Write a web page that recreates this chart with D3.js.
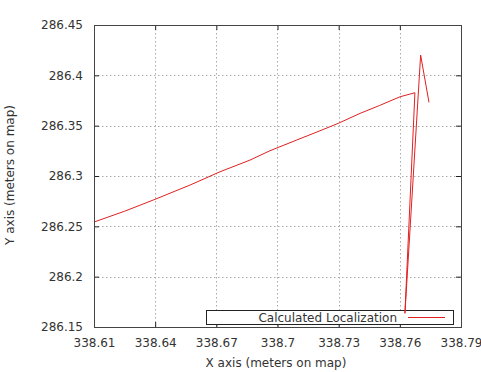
<!DOCTYPE html>
<html><head><meta charset="utf-8">
<script src="https://cdn.jsdelivr.net/npm/d3@7"></script>
<style>body{margin:0;background:#fff}svg{display:block}text{font-family:"DejaVu Sans",sans-serif;fill:#333}</style>
</head><body><svg id="c" width="481" height="372"></svg>
<script>
const xTicks = [338.61, 338.64, 338.67, 338.70, 338.73, 338.76, 338.79];
const xTickLabels = ["338.61","338.64","338.67","338.7","338.73","338.76","338.79"];
const yTicks = [286.15, 286.20, 286.25, 286.30, 286.35, 286.40, 286.45];
const yTickLabels = ["286.15","286.2","286.25","286.3","286.35","286.4","286.45"];
const xs = [338.6105, 338.6250, 338.6399, 338.6571, 338.6718, 338.6865, 338.6963, 338.7094, 338.7208, 338.7298, 338.7405, 338.7500, 338.7601, 338.7674, 338.7625, 338.7702, 338.7743];
const ys = [286.2546, 286.2650, 286.2768, 286.2910, 286.3042, 286.3158, 286.3251, 286.3357, 286.3449, 286.3523, 286.3622, 286.3700, 286.3787, 286.3827, 286.1636, 286.4201, 286.3731];
const seriesName = "Calculated Localization";
const xTitle = "X axis (meters on map)";
const yTitle = "Y axis (meters on map)";

const svg = d3.select("#c");
const L = 94, R = 461, T = 25, B = 327;
const x = d3.scaleLinear().domain([338.61, 338.79]).range([L, R]);
const y = d3.scaleLinear().domain([286.15, 286.45]).range([B, T]);

// grid
const g = svg.append("g").attr("stroke", "#aaa").attr("stroke-dasharray", "1.5,2.5").attr("stroke-width", 1);
xTicks.slice(1, -1).forEach(v => g.append("line").attr("x1", Math.round(x(v))+0.5).attr("x2", Math.round(x(v))+0.5).attr("y1", T).attr("y2", B));
yTicks.slice(1, -1).forEach(v => g.append("line").attr("y1", Math.round(y(v))+0.5).attr("y2", Math.round(y(v))+0.5).attr("x1", L).attr("x2", R));

// axes (ticks inward, mirrored)
const fmtX = (d, i) => xTickLabels[i];
const fmtY = (d, i) => yTickLabels[i];
const ax = svg.append("g").attr("transform", `translate(0,${B})`).call(d3.axisBottom(x).tickValues(xTicks).tickFormat(fmtX).tickSizeInner(-5).tickSizeOuter(0).tickPadding(11));
const ay = svg.append("g").attr("transform", `translate(${L},0)`).call(d3.axisLeft(y).tickValues(yTicks).tickFormat(fmtY).tickSizeInner(-5).tickSizeOuter(0).tickPadding(11));
const at = svg.append("g").attr("transform", `translate(0,${T})`).call(d3.axisTop(x).tickValues(xTicks).tickFormat("").tickSizeInner(-5).tickSizeOuter(0));
const ar = svg.append("g").attr("transform", `translate(${R},0)`).call(d3.axisRight(y).tickValues(yTicks).tickFormat("").tickSizeInner(-5).tickSizeOuter(0));
[ax, ay, at, ar].forEach(a => { a.selectAll("path,line").attr("stroke", "#222"); a.selectAll("text").attr("font-size", 12).attr("fill", "#333").attr("font-family", "DejaVu Sans"); });
svg.append("rect").attr("x", L+0.5).attr("y", T+0.5).attr("width", R-L).attr("height", B-T).attr("fill", "none").attr("stroke", "#444");

// legend
svg.append("rect").attr("x", 206.5).attr("y", 310.5).attr("width", 247).attr("height", 14).attr("fill", "#fff").attr("stroke", "#222");
svg.append("text").attr("x", 397).attr("y", 321.5).attr("text-anchor", "end").attr("font-size", 12).text(seriesName);
svg.append("line").attr("x1", 408).attr("x2", 445).attr("y1", 317.5).attr("y2", 317.5).attr("stroke", "#e02020").attr("stroke-width", 1);

// line
const pts = xs.map((v, i) => [v, ys[i]]);
svg.append("path").datum(pts).attr("fill", "none").attr("stroke", "#e02020").attr("stroke-width", 1)
  .attr("d", d3.line().x(d => x(d[0])).y(d => y(d[1])));

// titles
svg.append("text").attr("x", 276).attr("y", 367).attr("text-anchor", "middle").attr("font-size", 12).text(xTitle);
svg.append("text").attr("transform", "translate(14,175) rotate(-90)").attr("text-anchor", "middle").attr("font-size", 12).text(yTitle);
</script></body></html>
